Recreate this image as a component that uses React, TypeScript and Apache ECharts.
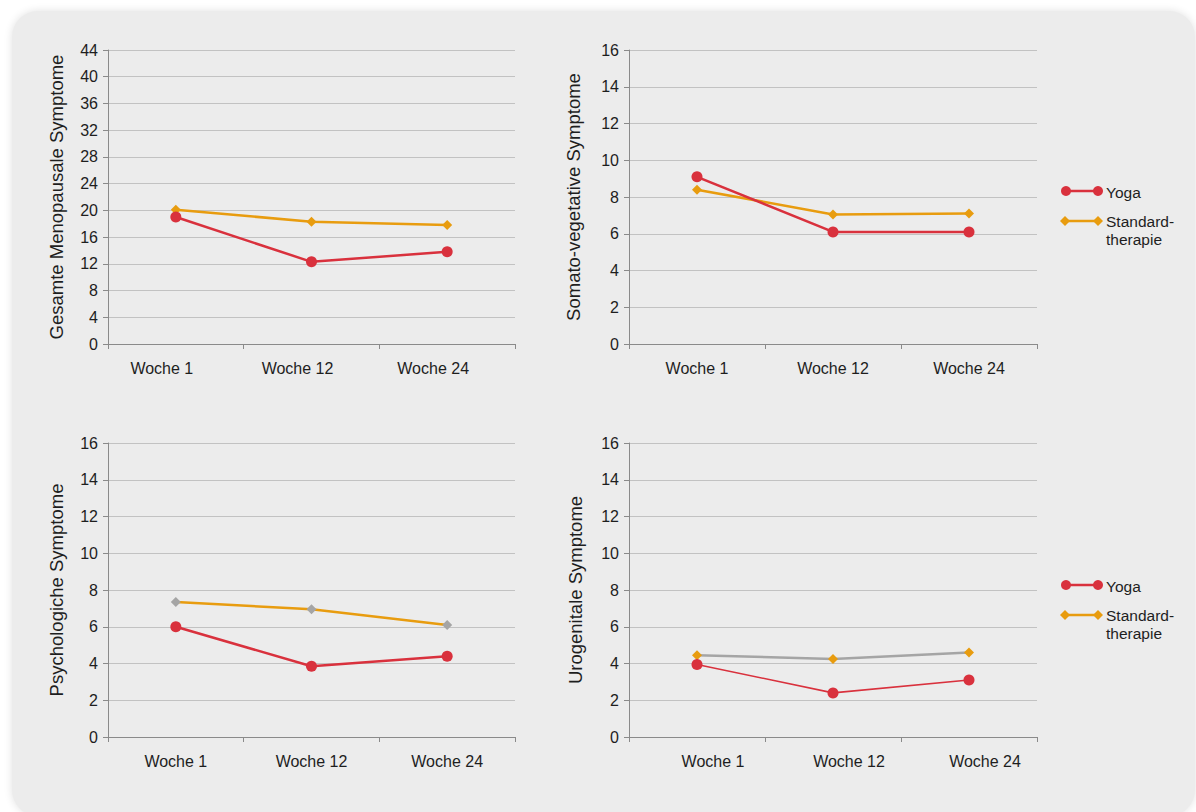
import React, { useEffect, useRef } from "react";
import * as echarts from "echarts";

const categories = ["Woche 1", "Woche 12", "Woche 24"];
const seriesNames = ["Yoga", "Standardtherapie"];
const legendLines = ["Yoga", "Standard-", "therapie"];

const totalYoga = [19.0, 12.3, 13.8];
const totalStandard = [20.1, 18.3, 17.8];
const somaticYoga = [9.1, 6.1, 6.1];
const somaticStandard = [8.4, 7.05, 7.1];
const psychYoga = [6.0, 3.85, 4.4];
const psychStandard = [7.35, 6.95, 6.1];
const uroYoga = [3.95, 2.4, 3.1];
const uroStandard = [4.45, 4.25, 4.6];

const axisTitles = [
  "Gesamte Menopausale Symptome",
  "Somato-vegetative Symptome",
  "Psychologiche Symptome",
  "Urogenitale Symptome",
];
const yMax = [44, 16, 16, 16];
const yInterval = [4, 2, 2, 2];

const RED = "#d9313d";
const ORANGE = "#e89c0f";
const GREY = "#a5a5a5";
const FONT = "'Liberation Sans', Arial, sans-serif";
const TEXT = "#1e1e1e";
const AXIS = "#8a8a8a";
const SPLIT = "#c2c2c2";

export default function App() {
  const ref = useRef<HTMLDivElement>(null);

  useEffect(() => {
    if (!ref.current) return;
    const chart = echarts.init(ref.current, null, { renderer: "svg" });

    const grids = [
      { left: 108, top: 50, width: 407, height: 294 },
      { left: 629, top: 50, width: 408, height: 294 },
      { left: 108, top: 443, width: 407, height: 294 },
      { left: 629, top: 443, width: 408, height: 294 },
    ];
    const labelPad = [
      [0, 28, 0, 0],
      [0, 0, 0, 0],
      [0, 0, 0, 0],
      [0, 0, 0, 32],
    ];
    const nameGaps = [42, 46, 42, 44];

    const xAxis = grids.map((_, i) => ({
      type: "category",
      gridIndex: i,
      data: categories,
      boundaryGap: true,
      axisLine: { show: true, lineStyle: { color: AXIS, width: 1 } },
      axisTick: { show: true, length: 5, lineStyle: { color: AXIS } },
      axisLabel: {
        color: TEXT,
        fontSize: 16,
        fontFamily: FONT,
        margin: 16,
        padding: labelPad[i],
      },
      splitLine: { show: false },
    }));

    const yAxis = grids.map((_, i) => ({
      type: "value",
      gridIndex: i,
      min: 0,
      max: yMax[i],
      interval: yInterval[i],
      name: axisTitles[i],
      nameLocation: "middle",
      nameGap: nameGaps[i],
      nameRotate: 90,
      nameTextStyle: { color: TEXT, fontSize: 18.5, fontFamily: FONT },
      axisLine: { show: true, lineStyle: { color: AXIS, width: 1 } },
      axisTick: { show: true, length: 5, lineStyle: { color: AXIS } },
      axisLabel: { color: TEXT, fontSize: 16, fontFamily: FONT, margin: 10 },
      splitLine: { show: true, lineStyle: { color: SPLIT, width: 1 } },
    }));

    const mk = (
      i: number,
      name: string,
      data: number[],
      symbol: string,
      lineColor: string,
      markColor: string,
      width: number
    ) => ({
      type: "line",
      name,
      xAxisIndex: i,
      yAxisIndex: i,
      data,
      symbol,
      symbolSize: symbol === "circle" ? 11 : 10,
      showSymbol: true,
      lineStyle: { color: lineColor, width },
      itemStyle: { color: markColor, borderWidth: 0 },
      z: name === "Yoga" ? 3 : 2,
    });

    const series = [
      mk(0, seriesNames[0], totalYoga, "circle", RED, RED, 2.5),
      mk(0, seriesNames[1], totalStandard, "diamond", ORANGE, ORANGE, 2.5),
      mk(1, seriesNames[0], somaticYoga, "circle", RED, RED, 2.5),
      mk(1, seriesNames[1], somaticStandard, "diamond", ORANGE, ORANGE, 2.5),
      mk(2, seriesNames[0], psychYoga, "circle", RED, RED, 2.5),
      mk(2, seriesNames[1], psychStandard, "diamond", ORANGE, GREY, 2.5),
      mk(3, seriesNames[0], uroYoga, "circle", RED, RED, 1.6),
      mk(3, seriesNames[1], uroStandard, "diamond", GREY, ORANGE, 2.5),
    ];

    const legend = (y: number) => {
      const diamond = (cx: number, cy: number) => ({
        type: "polygon",
        shape: {
          points: [
            [cx, cy - 5],
            [cx + 5, cy],
            [cx, cy + 5],
            [cx - 5, cy],
          ],
        },
        style: { fill: ORANGE },
      });
      const y2 = y + 30;
      return [
        { type: "line", shape: { x1: 1065, y1: y, x2: 1098, y2: y }, style: { stroke: RED, lineWidth: 2.5 } },
        { type: "circle", shape: { cx: 1066, cy: y, r: 5 }, style: { fill: RED } },
        { type: "circle", shape: { cx: 1098, cy: y, r: 5 }, style: { fill: RED } },
        {
          type: "text",
          x: 1106,
          y: y + 1,
          style: { text: legendLines[0], fill: TEXT, font: `15.5px ${FONT}`, textVerticalAlign: "middle" },
        },
        { type: "line", shape: { x1: 1065, y1: y2, x2: 1098, y2: y2 }, style: { stroke: ORANGE, lineWidth: 2.5 } },
        diamond(1065, y2),
        diamond(1098, y2),
        {
          type: "text",
          x: 1106,
          y: y2,
          style: { text: legendLines[1], fill: TEXT, font: `15.5px ${FONT}`, textVerticalAlign: "middle" },
        },
        {
          type: "text",
          x: 1106,
          y: y2 + 18,
          style: { text: legendLines[2], fill: TEXT, font: `15.5px ${FONT}`, textVerticalAlign: "middle" },
        },
      ];
    };

    chart.setOption({
      animation: false,
      backgroundColor: "transparent",
      grid: grids,
      xAxis,
      yAxis,
      series,
      graphic: [...legend(191), ...legend(585)],
    } as any);

    return () => chart.dispose();
  }, []);

  return (
    <div style={{ position: "absolute", left: 0, top: 0, width: 1196, height: 812, overflow: "hidden", background: "#fff" }}>
      <div
        style={{
          position: "absolute",
          left: 12,
          top: 11,
          width: 1183,
          height: 805,
          borderRadius: 26,
          background: "#ececec",
          boxShadow: "0 0 8px rgba(0,0,0,0.12)",
        }}
      />
      <div ref={ref} style={{ position: "absolute", left: 0, top: 0, width: 1196, height: 812 }} />
    </div>
  );
}
